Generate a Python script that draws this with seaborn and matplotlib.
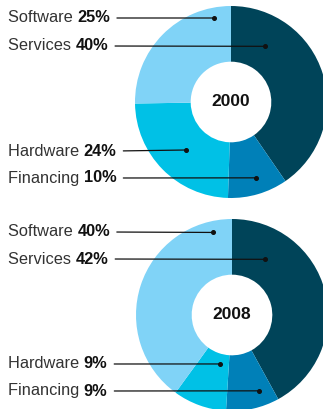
import matplotlib
matplotlib.use("Agg")
import matplotlib.pyplot as plt
import seaborn as sns

sns.set_theme(style="white")
plt.rcParams['font.family'] = ['Liberation Sans', 'DejaVu Sans']

# Data (clockwise from 12 o'clock)
categories = ["Services", "Financing", "Hardware", "Software"]
values_2000 = [40, 10, 24, 25]
values_2008 = [42, 9, 9, 40]
years = ["2000", "2008"]
label_order = ["Software", "Services", "Hardware", "Financing"]

colors = {"Services": "#004459", "Financing": "#0080B8",
          "Hardware": "#00C1E6", "Software": "#80D3F7"}
palette = sns.color_palette([colors[c] for c in categories])

W, H = 323, 409
fig = plt.figure(figsize=(W / 100, H / 100), dpi=100)

# layout: (center x, center y) in pixels, radius
R = 96
centers = [(231, 102), (232, 315)]
# label rows (pixel y) and dot positions (in pie units)
label_y = [[18, 46, 151, 178], [232, 259, 364, 391]]
dots = [
    {"Software": (-0.18, 0.875), "Services": (0.35, 0.58),
     "Hardware": (-0.47, -0.50), "Financing": (0.26, -0.79)},
    {"Software": (-0.20, 0.86), "Services": (0.34, 0.58),
     "Hardware": (-0.125, -0.51), "Financing": (0.28, -0.79)},
]
FS = 11.8

for i, (year, vals) in enumerate(zip(years, [values_2000, values_2008])):
    cx, cy = centers[i]
    ax = fig.add_axes([(cx - R) / W, 1 - (cy + R) / H, 2 * R / W, 2 * R / H])
    ax.pie(vals, colors=palette, startangle=90, counterclock=False,
           radius=1.0, wedgeprops=dict(width=0.58, linewidth=0),
           normalize=True)
    ax.set_xlim(-1, 1)
    ax.set_ylim(-1, 1)
    ax.set_aspect("equal")
    ax.axis("off")
    ax.text(0, 0, year, ha="center", va="center", fontsize=12.5,
            fontweight="bold", color="#111111")

    vmap = dict(zip(categories, vals))
    for j, cat in enumerate(label_order):
        y = 1 - label_y[i][j] / H
        t1 = fig.text(8 / W, y, cat + " ", ha="left", va="center",
                      fontsize=FS, color="#333333")
        ann = ax.annotate(f"{vmap[cat]}%", xy=(1, 0.5), xycoords=t1,
                          ha="left", va="center", fontsize=FS,
                          fontweight="bold", color="#111111")
        ax.annotate("", xy=dots[i][cat], xycoords="data",
                    xytext=(1, 0.5), textcoords=ann,
                    arrowprops=dict(arrowstyle="-", color="#111111",
                                    lw=0.9, shrinkA=5, shrinkB=0),
                    annotation_clip=False)
        ax.plot(*dots[i][cat], marker="o", markersize=2.6,
                color="#111111", clip_on=False)

fig.savefig("out.png", dpi=100)
